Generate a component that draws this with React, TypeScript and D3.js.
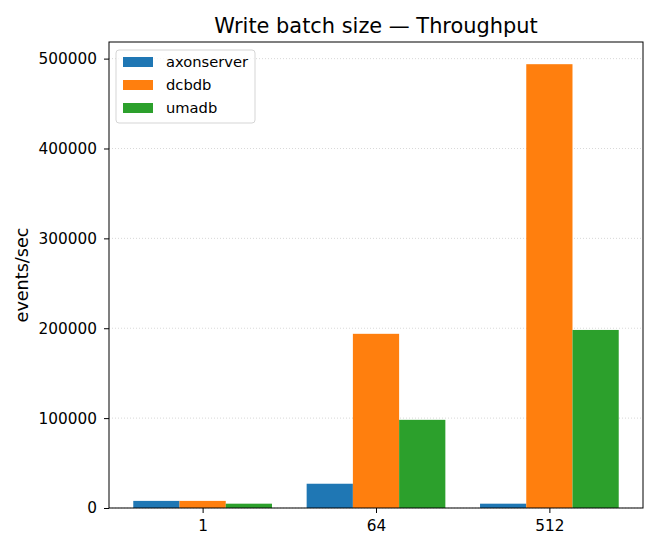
import React, { useEffect, useRef } from 'react';
import * as d3 from 'd3';

const batchSizes = ['1', '64', '512'];
const seriesNames = ['axonserver', 'dcbdb', 'umadb'];
const axonserver = [7900, 27000, 4800];
const dcbdb = [7900, 193800, 493800];
const umadb = [4800, 98100, 198100];
const seriesColors = ['#1f77b4', '#ff7f0e', '#2ca02c'];
const yTicks = [0, 100000, 200000, 300000, 400000, 500000];

const W = 660;
const H = 550;
const margin = { left: 109, right: 17, top: 42, bottom: 42 };

function App() {
  const ref = useRef<SVGSVGElement>(null);

  useEffect(() => {
    const svg = d3.select(ref.current);
    svg.selectAll('*').remove();
    const font = 'DejaVu Sans, sans-serif';

    const values = [axonserver, dcbdb, umadb];
    const n = seriesNames.length;
    const groupW = 0.8;
    const barW = groupW / n;

    const maxV = d3.max(values.flat()) as number;
    const x = d3.scaleLinear()
      .domain([-groupW / 2 - 0.14, batchSizes.length - 1 + groupW / 2 + 0.14])
      .range([margin.left, W - margin.right]);
    const y = d3.scaleLinear()
      .domain([0, maxV * 1.05])
      .range([H - margin.bottom, margin.top]);

    // grid
    svg.append('g')
      .selectAll('line')
      .data(yTicks)
      .enter()
      .append('line')
      .attr('x1', margin.left)
      .attr('x2', W - margin.right)
      .attr('y1', (d) => y(d))
      .attr('y2', (d) => y(d))
      .attr('stroke', '#b0b0b0')
      .attr('stroke-width', 0.8)
      .attr('stroke-dasharray', '1,2')
      .attr('opacity', 0.6);

    // bars
    values.forEach((vals, si) => {
      svg.append('g')
        .selectAll('rect')
        .data(vals)
        .enter()
        .append('rect')
        .attr('x', (_d, i) => x(i - groupW / 2 + si * barW))
        .attr('width', x(barW) - x(0))
        .attr('y', (d) => y(d))
        .attr('height', (d) => y(0) - y(d))
        .attr('fill', seriesColors[si]);
    });

    // frame
    svg.append('rect')
      .attr('x', margin.left)
      .attr('y', margin.top)
      .attr('width', W - margin.left - margin.right)
      .attr('height', H - margin.top - margin.bottom)
      .attr('fill', 'none')
      .attr('stroke', '#000')
      .attr('stroke-width', 1);

    // y axis
    const yAxis = svg.append('g')
      .attr('transform', `translate(${margin.left},0)`)
      .call(d3.axisLeft(y).tickValues(yTicks).tickSize(5).tickPadding(7).tickFormat(d3.format('d')));
    yAxis.select('.domain').remove();
    yAxis.selectAll('text').attr('font-family', font).attr('font-size', 15.3).attr('fill', '#000');

    // x axis
    const xAxis = svg.append('g')
      .attr('transform', `translate(0,${H - margin.bottom})`)
      .call(d3.axisBottom(x).tickValues(batchSizes.map((_d, i) => i)).tickSize(5).tickPadding(7)
        .tickFormat((_d, i) => batchSizes[i]));
    xAxis.select('.domain').remove();
    xAxis.selectAll('text').attr('font-family', font).attr('font-size', 15.3).attr('fill', '#000');

    // y label
    svg.append('text')
      .attr('transform', `translate(28,${(margin.top + H - margin.bottom) / 2}) rotate(-90)`)
      .attr('text-anchor', 'middle')
      .attr('font-family', font)
      .attr('font-size', 17.6)
      .text('events/sec');

    // title
    svg.append('text')
      .attr('x', (margin.left + W - margin.right) / 2)
      .attr('y', 33)
      .attr('text-anchor', 'middle')
      .attr('font-family', font)
      .attr('font-size', 20.9)
      .text('Write batch size — Throughput');

    // legend
    const lg = svg.append('g').attr('transform', `translate(${margin.left + 7},${margin.top + 8})`);
    lg.append('rect')
      .attr('width', 139)
      .attr('height', 73)
      .attr('rx', 3)
      .attr('fill', '#fff')
      .attr('fill-opacity', 0.8)
      .attr('stroke', '#d5d5d5');
    seriesNames.forEach((name, i) => {
      lg.append('rect')
        .attr('x', 7)
        .attr('y', 7 + i * 23)
        .attr('width', 30)
        .attr('height', 10)
        .attr('fill', seriesColors[i]);
      lg.append('text')
        .attr('x', 50)
        .attr('y', 17 + i * 23)
        .attr('font-family', font)
        .attr('font-size', 14.7)
        .text(name);
    });
  }, []);

  return <svg ref={ref} width={W} height={H} style={{ display: 'block', margin: '-8px' }} />;
}

export default App;
